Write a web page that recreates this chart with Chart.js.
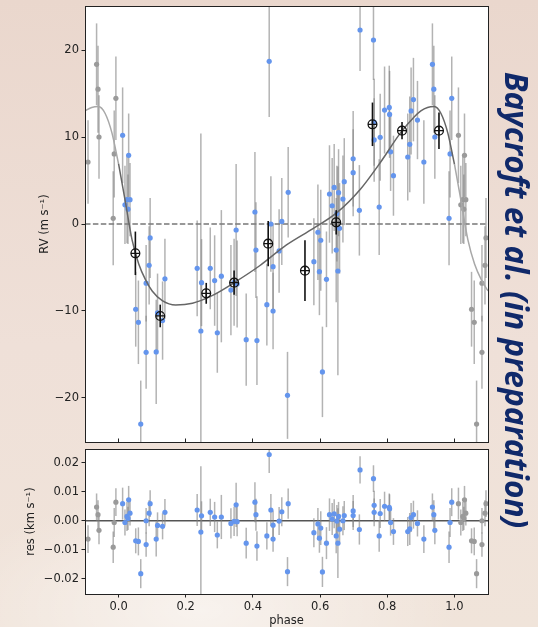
<!DOCTYPE html>
<html>
<head>
<meta charset="utf-8">
<script src="https://cdn.jsdelivr.net/npm/chart.js@4.4.1/dist/chart.umd.min.js"></script>
<style>
  html, body { margin: 0; padding: 0; }
  body {
    width: 538px; height: 627px; overflow: hidden; position: relative;
    background:
      radial-gradient(ellipse 260px 120px at 200px 610px, rgba(255,255,255,0.55), rgba(255,255,255,0) 100%),
      linear-gradient(180deg, #ead7cd 0%, #efe0d8 55%, #f0e4da 100%);
  }
  #rvChart { position: absolute; left: 0; top: 0; }
  #resChart { position: absolute; left: 0; top: 445px; }
  #credit {
    position: absolute; top: 72px; left: 499px; line-height: 36px;
    writing-mode: vertical-rl;
    font-family: 'Open Sans', sans-serif; font-style: italic; font-weight: 700;
    font-size: 31.6px; color: #10296a; white-space: nowrap;
  }
</style>
</head>
<body>
<canvas id="rvChart" width="538" height="449"></canvas>
<canvas id="resChart" width="538" height="182"></canvas>
<div id="credit">Baycroft et al. (in preparation)</div>
<script>
// RV measurements (phase-folded), m/s, and residuals in km/s
const phase = [0.012, 0.019, 0.025, 0.028, 0.030, 0.034, 0.051, 0.059, 0.066, 0.082, 0.082, 0.091, 0.094,
  0.112, 0.116, 0.131, 0.138, 0.234, 0.245, 0.247, 0.273, 0.286, 0.294, 0.306, 0.3345, 0.344, 0.350, 0.353,
  0.380, 0.406, 0.409, 0.412, 0.4415, 0.4485, 0.4535, 0.460, 0.460, 0.478, 0.486, 0.503, 0.505,
  0.5815, 0.5935, 0.598, 0.602, 0.607, 0.619, 0.628, 0.636, 0.642, 0.648, 0.650, 0.653, 0.655, 0.658,
  0.668, 0.672, 0.6985, 0.6985, 0.717, 0.719, 0.759, 0.761, 0.761, 0.776, 0.779, 0.792, 0.806, 0.807,
  0.810, 0.8185, 0.861, 0.867, 0.871, 0.878, 0.890, 0.909, 0.9345, 0.9387, 0.9417, 0.984, 0.987, 0.992];
const rv = [10.2, 2.2, 2.8, 1.7, 7.9, 2.8, -9.8, -11.3, -23.0, -6.8, -14.75, -4.75, -1.6,
  -14.7, -10.2, -11.1, -6.3, -5.1, -12.3, -6.74, -5.1, -6.5, -12.5, -6.0, -7.6, -6.7, -0.69, -6.9,
  -13.3, 1.38, -3.0, -13.4, -9.27, 18.7, 0.0, -4.9, -10.0, -3.1, 0.3, -19.7, 3.64,
  -4.33, -0.95, -5.48, -1.87, -17.0, -6.36, 3.45, 2.1, 4.2, -3.0, 1.2, -5.4, 3.6, -0.5,
  2.87, 4.87, 7.5, 5.9, 1.57, 22.3, 21.15, 9.66, 11.7, 1.95, 9.96, 13.1, 13.4, 12.6,
  8.3, 5.55, 7.7, 9.16, 13.0, 14.3, 11.95, 7.13, 18.36, 15.5, 10.0, 0.65, 8.05, 14.45];
const rvErr = [5.5, 4.5, 5.0, 4.0, 4.8, 4.2, 4.3, 4.8, 5.0, 4.4, 4.2, 4.5, 4.6,
  6.0, 4.5, 4.5, 4.6, 5.5, 22.7, 5.0, 4.7, 5.2, 4.6, 7.6, 5.2, 5.0, 7.6, 5.0,
  5.3, 6.9, 5.5, 5.1, 4.7, 6.4, 5.5, 5.0, 4.4, 4.8, 5.0, 5.0, 5.2,
  5.0, 5.5, 5.0, 5.8, 5.2, 5.5, 5.6, 5.5, 5.0, 6.0, 5.5, 12.0, 5.0, 5.2,
  5.0, 5.0, 5.5, 5.0, 5.2, 4.7, 4.6, 4.8, 5.0, 5.5, 5.0, 5.0, 4.8, 5.0,
  4.5, 4.6, 5.0, 5.5, 5.0, 4.8, 4.5, 4.8, 4.7, 5.0, 4.8, 5.4, 5.0, 4.8];
const resid = [0.0059, -0.0006, 0.0015, 0.0008, 0.0072, 0.0026, -0.0069, -0.0071, -0.0182, 0.0000, -0.0082, 0.0026, 0.0059,
  -0.0063, -0.0016, -0.0019, 0.0029, 0.0037, -0.0039, 0.0017, 0.0029, 0.0013, -0.0049, 0.0013, -0.0009, -0.0002, 0.0055, -0.0003,
  -0.0077, 0.0064, 0.0021, -0.0087, -0.0052, 0.0228, 0.0037, -0.0015, -0.0063, -0.0001, 0.0031, -0.0175, 0.0059,
  -0.0041, -0.0011, -0.0060, -0.0025, -0.0176, -0.0077, 0.0021, 0.0006, 0.0024, -0.0052, -0.0001, -0.0077, 0.0015, -0.0029,
  0.0000, 0.0018, 0.0034, 0.0018, -0.0030, 0.0175, 0.0145, 0.0029, 0.0053, -0.0052, 0.0025, 0.0050, 0.0046, 0.0041,
  -0.0006, -0.0037, -0.0037, -0.0028, 0.0011, 0.0021, -0.0009, -0.0063, 0.0047, 0.0021, -0.0033, -0.0091, -0.0006, 0.0064];

// Binned points
const binPhase = [0.050, 0.124, 0.261, 0.344, 0.4455, 0.555, 0.648, 0.756, 0.844, 0.954];
const binRv = [-3.37, -10.57, -7.97, -6.74, -2.26, -5.36, 0.19, 11.46, 10.73, 10.73];
const binErr = [2.5, 1.3, 1.2, 1.4, 2.6, 3.5, 1.4, 2.5, 1.0, 2.1];

// Keplerian model
const modelPhase = [0.00, 0.02, 0.04, 0.06, 0.08, 0.10, 0.13, 0.17, 0.22, 0.28, 0.35, 0.42, 0.50,
  0.58, 0.65, 0.72, 0.78, 0.84, 0.88, 0.90, 0.92, 0.94, 0.96, 0.98, 1.00];
const modelRv = [6.9, 2.6, -1.8, -4.6, -6.4, -7.7, -8.8, -9.3, -9.1, -8.2, -6.6, -4.8, -2.4,
  -0.5, 1.3, 4.0, 7.1, 10.5, 12.3, 13.0, 13.4, 13.5, 12.7, 10.5, 6.9];

// Axes
const xMin = -0.1, xMax = 1.1;
const xTicks = [0.0, 0.2, 0.4, 0.6, 0.8, 1.0];
const rvTicks = [-20, -10, 0, 10, 20];
const resTicks = [-0.02, -0.01, 0.0, 0.01, 0.02];

const BLUE = '#6495ed';
const GREY_PT = '#9a9a9a';
const BAR = 'rgba(128,128,128,0.6)';
const FONT = 'DejaVu Sans';

// points outside [0.1, 0.9] are repeated one period away
const wrapIdx = phase.map((p, i) => i).filter(i => phase[i] < 0.1 || phase[i] > 0.9);
const shift = p => (p > 0.5 ? p - 1 : p + 1);
const modelWrapLeft = modelPhase.map((p, i) => i).filter(i => modelPhase[i] >= 0.9);
const modelWrapRight = modelPhase.map((p, i) => i).filter(i => modelPhase[i] <= 0.1);

const minus = v => String(v).replace('-', '\u2212');

// error bars drawn under each dataset's points
const errorBars = {
  id: 'errorBars',
  beforeDatasetDraw(chart, args) {
    const ds = chart.data.datasets[args.index];
    if (!ds.errors) return;
    const { ctx, chartArea, scales: { x, y } } = chart;
    ctx.save();
    ctx.beginPath();
    ctx.rect(chartArea.left, chartArea.top, chartArea.width, chartArea.height);
    ctx.clip();
    ctx.strokeStyle = ds.errorColor;
    ctx.lineWidth = ds.errorWidth;
    ds.data.forEach((pt, i) => {
      const px = x.getPixelForValue(pt.x);
      ctx.beginPath();
      ctx.moveTo(px, y.getPixelForValue(pt.y - ds.errors[i]));
      ctx.lineTo(px, y.getPixelForValue(pt.y + ds.errors[i]));
      ctx.stroke();
    });
    ctx.restore();
  }
};

// white plot area and black frame
const frame = {
  id: 'frame',
  beforeDraw(chart) {
    const { ctx, chartArea: a } = chart;
    ctx.save();
    ctx.fillStyle = '#fff';
    ctx.fillRect(a.left, a.top, a.width, a.height);
    ctx.restore();
  },
  afterDraw(chart) {
    const { ctx, chartArea: a } = chart;
    ctx.save();
    ctx.strokeStyle = '#222';
    ctx.lineWidth = 1;
    ctx.strokeRect(Math.round(a.left) + 0.5, Math.round(a.top) + 0.5, Math.round(a.width), Math.round(a.height));
    ctx.restore();
  }
};

Chart.defaults.font.family = FONT;
Chart.defaults.color = '#222';

function xScale(showLabels) {
  return {
    type: 'linear', min: xMin, max: xMax,
    afterBuildTicks: s => { s.ticks = xTicks.map(v => ({ value: v })); },
    afterFit: s => {
      s.height = showLabels ? 33 : 0;
      s.paddingLeft = 0; s.paddingRight = 0;
    },
    border: { display: false },
    grid: { drawOnChartArea: false, drawTicks: true, tickLength: showLabels ? 3.5 : -3.5, color: '#222' },
    ticks: {
      display: showLabels, padding: 3, font: { size: 11.5 }, color: '#222',
      callback: v => v.toFixed(1)
    },
    title: showLabels
      ? { display: true, text: 'phase', font: { size: 11.5, lineHeight: 1 }, padding: { top: 0, bottom: 0 }, color: '#222' }
      : { display: false }
  };
}

function yScale(min, max, ticks, label, titleOffset, fmt) {
  return {
    type: 'linear', min: min, max: max,
    afterBuildTicks: s => { s.ticks = ticks.map(v => ({ value: v })); },
    afterFit: s => {
      s.width = 85;
      s.paddingTop = 0; s.paddingBottom = 0;
    },
    border: { display: false },
    grid: { drawOnChartArea: false, drawTicks: true, tickLength: 3.5, color: '#222' },
    ticks: { padding: 2.5, font: { size: 11.5 }, color: '#222', callback: fmt },
    title: { display: true, text: label, font: { size: 11.5, lineHeight: 1 }, padding: { top: titleOffset, bottom: 0 }, color: '#222' }
  };
}

// Top panel: RV
new Chart(document.getElementById('rvChart'), {
  type: 'scatter',
  data: {
    datasets: [
      {
        label: 'zero', type: 'line', order: 5,
        data: [{ x: xMin, y: 0 }, { x: xMax, y: 0 }],
        borderColor: '#777', borderWidth: 1.3, borderDash: [5.5, 2.4], pointRadius: 0
      },
      {
        label: 'wrapped', order: 4,
        data: wrapIdx.map(i => ({ x: shift(phase[i]), y: rv[i] })),
        errors: wrapIdx.map(i => rvErr[i]), errorColor: BAR, errorWidth: 1.5,
        backgroundColor: GREY_PT, borderWidth: 0, pointRadius: 2.6
      },
      {
        label: 'RV', order: 3,
        data: phase.map((p, i) => ({ x: p, y: rv[i] })),
        errors: rvErr, errorColor: BAR, errorWidth: 1.5,
        backgroundColor: BLUE, borderWidth: 0, pointRadius: 2.6
      },
      {
        label: 'model', type: 'line', order: 2,
        data: modelPhase.map((p, i) => ({ x: p, y: modelRv[i] })),
        borderColor: '#666', borderWidth: 1.5, pointRadius: 0, cubicInterpolationMode: 'monotone'
      },
      {
        label: 'model left', type: 'line', order: 2,
        data: modelWrapLeft.map(i => ({ x: modelPhase[i] - 1, y: modelRv[i] })),
        borderColor: '#a8a8a8', borderWidth: 1.5, pointRadius: 0, cubicInterpolationMode: 'monotone'
      },
      {
        label: 'model right', type: 'line', order: 2,
        data: modelWrapRight.map(i => ({ x: modelPhase[i] + 1, y: modelRv[i] })),
        borderColor: '#a8a8a8', borderWidth: 1.5, pointRadius: 0, cubicInterpolationMode: 'monotone'
      },
      {
        label: 'binned', order: 1,
        data: binPhase.map((p, i) => ({ x: p, y: binRv[i] })),
        errors: binErr, errorColor: '#111', errorWidth: 1.6,
        pointStyle: 'circle', pointRadius: 4.4, backgroundColor: 'rgba(0,0,0,0)',
        borderColor: '#111', borderWidth: 1.3
      },
      {
        label: 'binned cross', order: 0,
        data: binPhase.map((p, i) => ({ x: p, y: binRv[i] })),
        pointStyle: 'cross', pointRadius: 4.4, borderColor: '#111', borderWidth: 1.2
      }
    ]
  },
  options: {
    responsive: false, animation: false, devicePixelRatio: 1,
    layout: { padding: { top: 6, right: 50, bottom: 7, left: 0 } },
    plugins: { legend: { display: false }, tooltip: { enabled: false } },
    scales: {
      x: xScale(false),
      y: yScale(-25.06, 25.06, rvTicks, 'RV (m s\u207B\u00B9)', 39.5, v => minus(v))
    }
  },
  plugins: [frame, errorBars]
});

// Bottom panel: residuals
new Chart(document.getElementById('resChart'), {
  type: 'scatter',
  data: {
    datasets: [
      {
        label: 'zero', type: 'line', order: 5,
        data: [{ x: xMin, y: 0 }, { x: xMax, y: 0 }],
        borderColor: '#555', borderWidth: 1.4, pointRadius: 0
      },
      {
        label: 'wrapped', order: 4,
        data: wrapIdx.map(i => ({ x: shift(phase[i]), y: resid[i] })),
        errors: wrapIdx.map(i => rvErr[i] / 1000), errorColor: BAR, errorWidth: 1.5,
        backgroundColor: GREY_PT, borderWidth: 0, pointRadius: 2.6
      },
      {
        label: 'res', order: 3,
        data: phase.map((p, i) => ({ x: p, y: resid[i] })),
        errors: rvErr.map(e => e / 1000), errorColor: BAR, errorWidth: 1.5,
        backgroundColor: BLUE, borderWidth: 0, pointRadius: 2.6
      }
    ]
  },
  options: {
    responsive: false, animation: false, devicePixelRatio: 1,
    layout: { padding: { top: 4, right: 50, bottom: 0, left: 0 } },
    plugins: { legend: { display: false }, tooltip: { enabled: false } },
    scales: {
      x: xScale(true),
      y: yScale(-0.0252, 0.0247, resTicks, 'res (km s\u207B\u00B9)', 25.5, v => minus(v.toFixed(2)))
    }
  },
  plugins: [frame, errorBars]
});
</script>
</body>
</html>
